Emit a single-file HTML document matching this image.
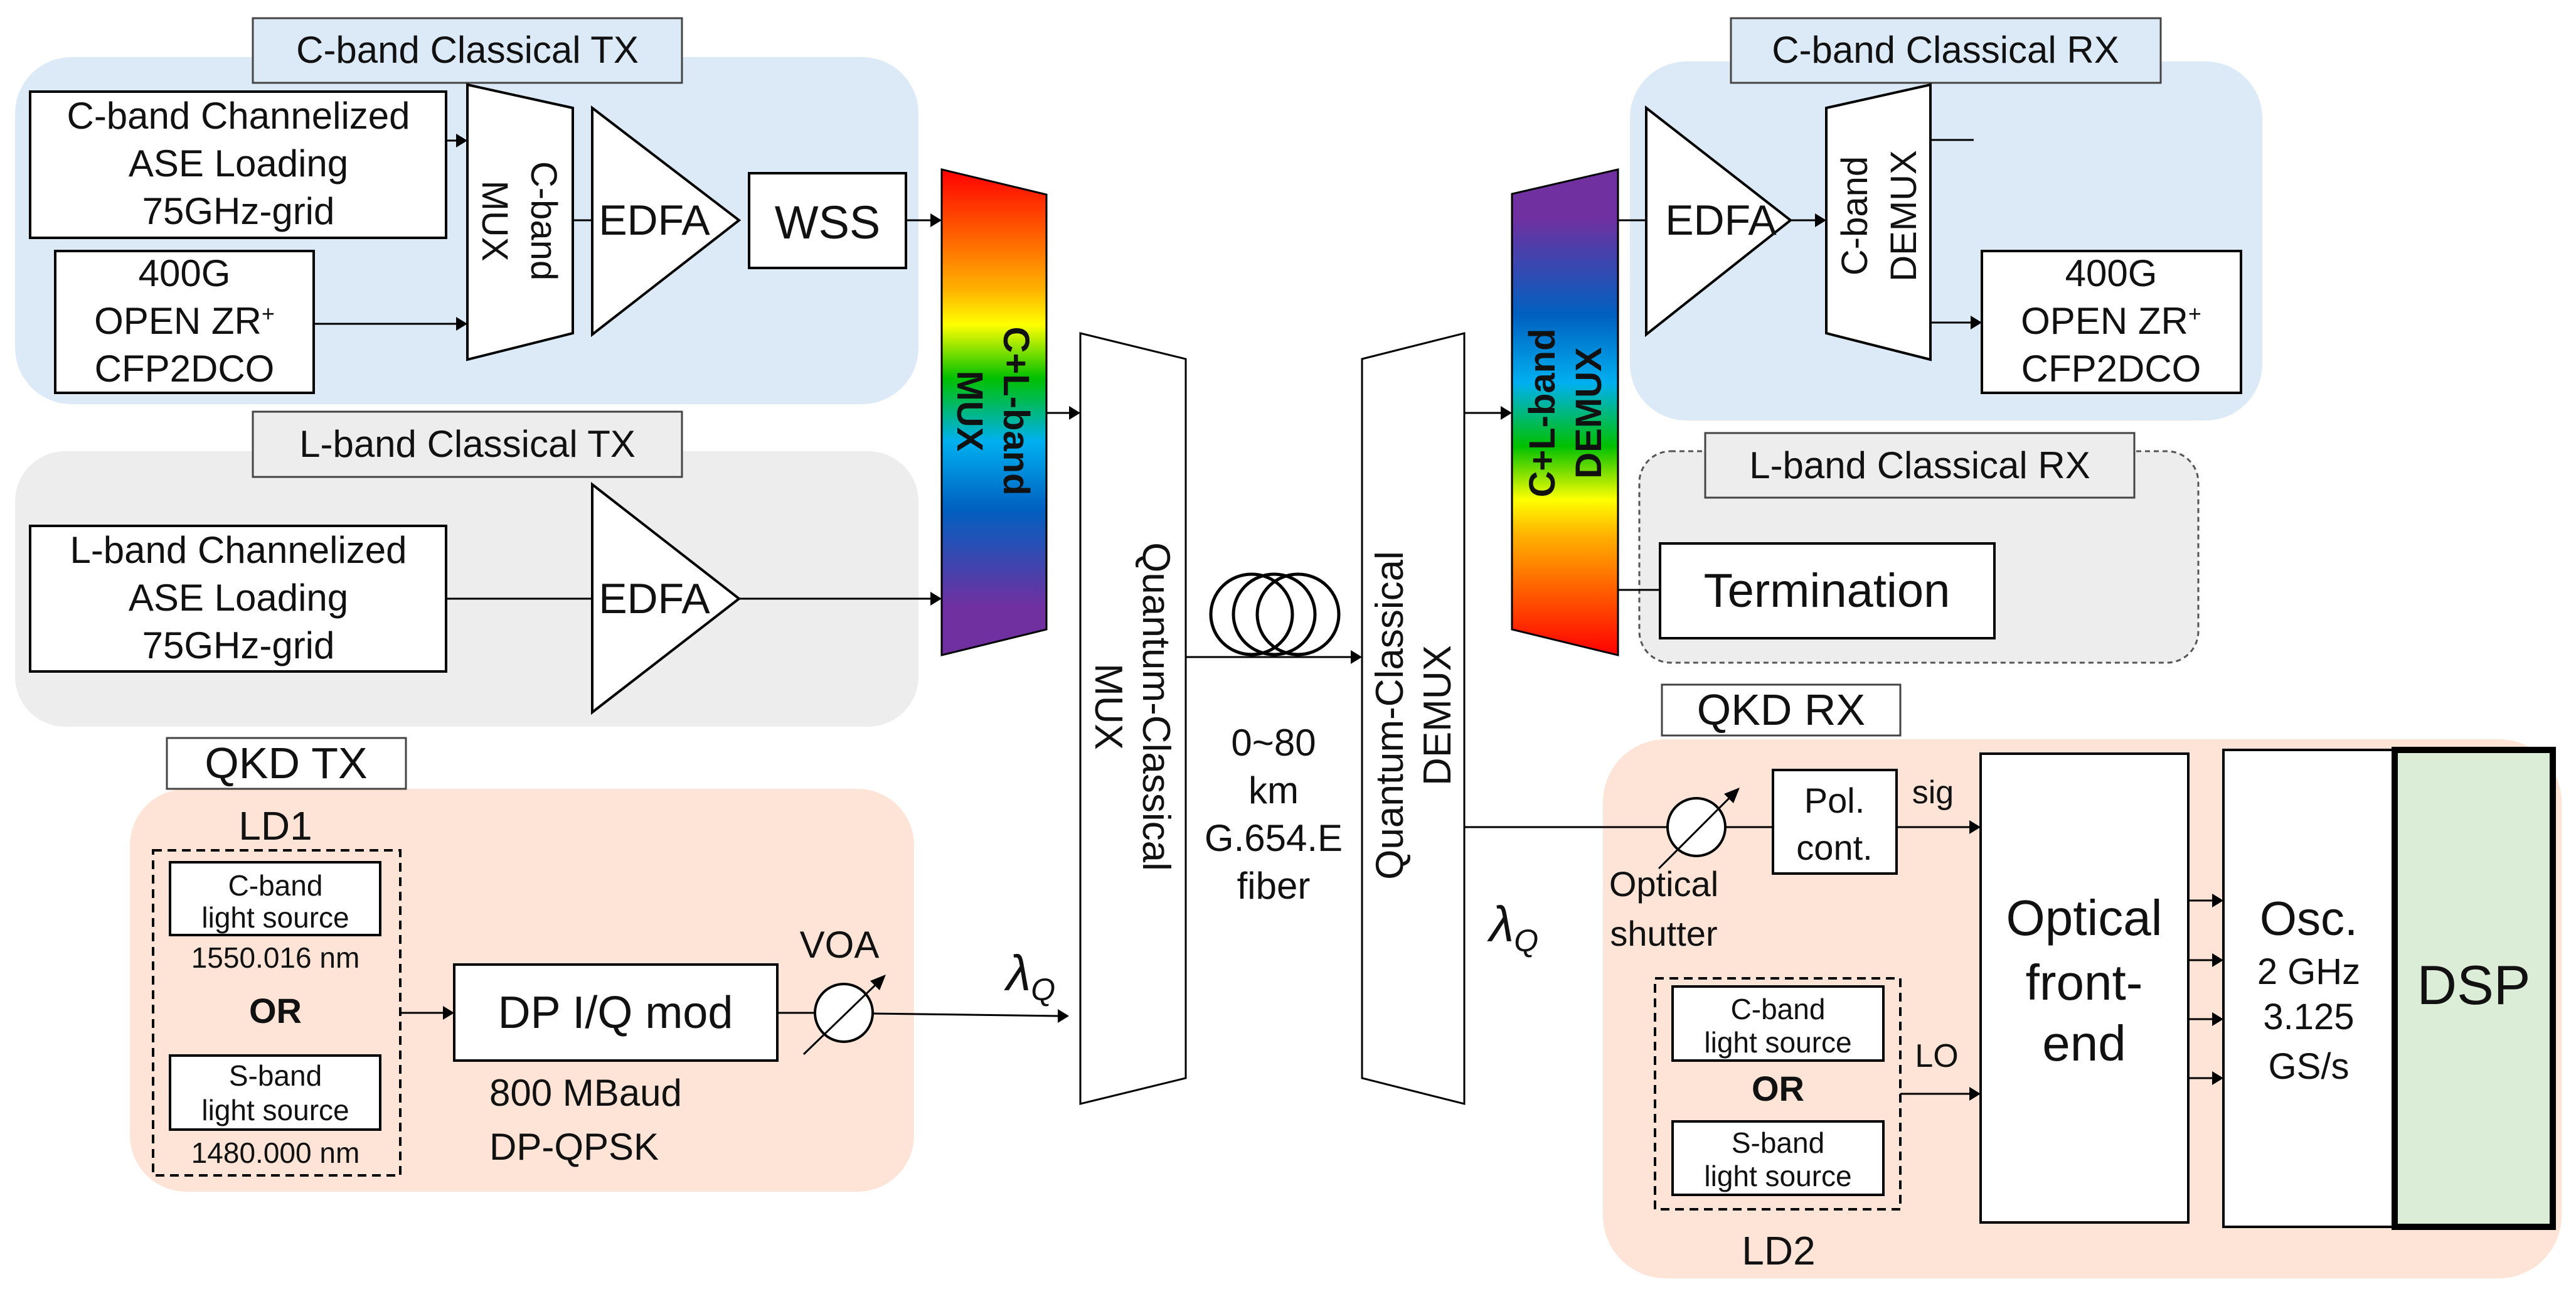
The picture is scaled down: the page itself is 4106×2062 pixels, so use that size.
<!DOCTYPE html>
<html><head><meta charset="utf-8"><style>
html,body{margin:0;padding:0;background:#fff}
svg{display:block}
text{font-family:"Liberation Sans Narrow","Liberation Sans",sans-serif;fill:#111}
.a{font-family:"Liberation Sans",sans-serif}
</style></head><body>
<svg width="4106" height="2062" viewBox="0 0 4106 2062" xmlns="http://www.w3.org/2000/svg">
<defs>
<linearGradient id="gm" gradientUnits="userSpaceOnUse" x1="0" y1="270" x2="0" y2="1044">
<stop offset="0" stop-color="#ff0000"/><stop offset="0.15" stop-color="#ff6a00"/><stop offset="0.25" stop-color="#ffb400"/><stop offset="0.32" stop-color="#ffff00"/><stop offset="0.43" stop-color="#00c000"/><stop offset="0.56" stop-color="#00b0f0"/><stop offset="0.7" stop-color="#0060c0"/><stop offset="0.9" stop-color="#7030a0"/><stop offset="1" stop-color="#7030a0"/>
</linearGradient>
<linearGradient id="gd" gradientUnits="userSpaceOnUse" x1="0" y1="1044" x2="0" y2="270">
<stop offset="0" stop-color="#ff0000"/><stop offset="0.15" stop-color="#ff6a00"/><stop offset="0.25" stop-color="#ffb400"/><stop offset="0.32" stop-color="#ffff00"/><stop offset="0.43" stop-color="#00c000"/><stop offset="0.56" stop-color="#00b0f0"/><stop offset="0.7" stop-color="#0060c0"/><stop offset="0.9" stop-color="#7030a0"/><stop offset="1" stop-color="#7030a0"/>
</linearGradient>
</defs>

<rect x="24" y="91" width="1440" height="553" rx="90" fill="#dbeaf6"/>
<rect x="24" y="719" width="1440" height="439" rx="80" fill="#ededed"/>
<rect x="207" y="1257" width="1250" height="642" rx="90" fill="#fde4d6"/>
<rect x="2598" y="98" width="1008" height="572" rx="90" fill="#dbeaf6"/>
<rect x="2613" y="719" width="891" height="337" rx="50" fill="#ededed" stroke="#555" stroke-width="3" stroke-dasharray="8,6"/>
<rect x="2555" y="1178" width="1528" height="859" rx="100" fill="#fde4d6"/>

<rect x="403" y="29" width="684" height="103" fill="#dbeaf6" stroke="#444" stroke-width="3"/>
<text x="745" y="100" font-size="60" text-anchor="middle">C-band Classical TX</text>
<rect x="403" y="656" width="684" height="104" fill="#ededed" stroke="#444" stroke-width="3"/>
<text x="745" y="728" font-size="60" text-anchor="middle">L-band Classical TX</text>
<rect x="2759" y="29" width="685" height="103" fill="#dbeaf6" stroke="#444" stroke-width="3"/>
<text x="3101" y="100" font-size="60" text-anchor="middle">C-band Classical RX</text>
<rect x="2718" y="690" width="684" height="103" fill="#ededed" stroke="#444" stroke-width="3"/>
<text x="3060" y="762" font-size="60" text-anchor="middle">L-band Classical RX</text>
<rect x="266" y="1176" width="381" height="81" fill="#fff" stroke="#444" stroke-width="3"/>
<text x="456" y="1240" font-size="70" text-anchor="middle">QKD TX</text>
<rect x="2649" y="1091" width="380" height="81" fill="#fff" stroke="#444" stroke-width="3"/>
<text x="2839" y="1155" font-size="70" text-anchor="middle">QKD RX</text>

<g stroke="#000" stroke-width="4" fill="#fff">
<rect x="48" y="146" width="663" height="233"/>
<rect x="88" y="400" width="412" height="226"/>
<polygon points="745,135 913,172 913,531 745,573"/>
<polygon points="944,172 1178,351 944,533"/>
<rect x="1194" y="276" width="250" height="151"/>
<rect x="48" y="838" width="663" height="232"/>
<polygon points="944,772 1178,954 944,1135"/>
<polygon points="1501,270 1668,310 1668,1003 1501,1044" fill="url(#gm)" stroke-width="3"/>
<polygon points="1722,531 1890,572 1890,1718 1722,1759" stroke-width="3"/>
<polygon points="2171,572 2334,531 2334,1759 2171,1718" stroke-width="3"/>
<polygon points="2410,309 2579,270 2579,1044 2410,1003" fill="url(#gd)" stroke-width="3"/>
<polygon points="2624,172 2854,351 2624,533"/>
<polygon points="2911,172 3077,135 3077,573 2911,531"/>
<rect x="3159" y="400" width="413" height="226"/>
<rect x="2646" y="866" width="533" height="151"/>
<rect x="244" y="1355" width="394" height="518" fill="none" stroke-dasharray="14,9"/>
<rect x="271" y="1374" width="335" height="116"/>
<rect x="271" y="1682" width="335" height="118"/>
<rect x="724" y="1537" width="515" height="153"/>
<rect x="2826" y="1227" width="197" height="165"/>
<rect x="3157" y="1201" width="331" height="747"/>
<rect x="3544" y="1195" width="273" height="760"/>
<rect x="3817" y="1195" width="252" height="760" fill="#dbedd6" stroke-width="10"/>
<rect x="2638" y="1559" width="391" height="368" fill="none" stroke-dasharray="14,9"/>
<rect x="2666" y="1572" width="336" height="118"/>
<rect x="2666" y="1787" width="336" height="117"/>
</g>

<g stroke="#000" stroke-width="3" fill="none">
<line x1="711" y1="224" x2="730" y2="224"/>
<line x1="500" y1="516" x2="730" y2="516"/>
<line x1="913" y1="351" x2="944" y2="351"/>
<line x1="1444" y1="351" x2="1485" y2="351"/>
<line x1="711" y1="954" x2="944" y2="954"/>
<line x1="1178" y1="954" x2="1485" y2="954"/>
<line x1="1668" y1="658" x2="1706" y2="658"/>
<line x1="1890" y1="1047" x2="2155" y2="1047"/>
<line x1="2334" y1="658" x2="2394" y2="658"/>
<line x1="2579" y1="351" x2="2624" y2="351"/>
<line x1="2854" y1="351" x2="2895" y2="351"/>
<line x1="3077" y1="223" x2="3146" y2="223"/>
<line x1="3077" y1="514" x2="3143" y2="514"/>
<line x1="2579" y1="940" x2="2646" y2="940"/>
<line x1="638" y1="1614" x2="708" y2="1614"/>
<line x1="1239" y1="1614" x2="1299" y2="1614"/>
<line x1="1391" y1="1615" x2="1687" y2="1619"/>
<line x1="2334" y1="1318" x2="2658" y2="1318"/>
<line x1="2750" y1="1318" x2="2826" y2="1318"/>
<line x1="3023" y1="1318" x2="3141" y2="1318"/>
<line x1="3029" y1="1743" x2="3141" y2="1743"/>
<line x1="3488" y1="1435" x2="3528" y2="1435"/>
<line x1="3488" y1="1530" x2="3528" y2="1530"/>
<line x1="3488" y1="1624" x2="3528" y2="1624"/>
<line x1="3488" y1="1718" x2="3528" y2="1718"/>
<ellipse cx="1995" cy="979" rx="65" ry="64" stroke-width="5"/>
<ellipse cx="2031" cy="979" rx="65" ry="64" stroke-width="5"/>
<ellipse cx="2069" cy="979" rx="65" ry="64" stroke-width="5"/>
</g>
<g fill="#000">
<polygon points="745,224 727,213 727,235"/>
<polygon points="745,516 727,505 727,527"/>
<polygon points="1501,351 1483,340 1483,362"/>
<polygon points="1501,954 1483,943 1483,965"/>
<polygon points="1722,658 1704,647 1704,669"/>
<polygon points="2171,1047 2153,1036 2153,1058"/>
<polygon points="2410,658 2392,647 2392,669"/>
<polygon points="2911,351 2893,340 2893,362"/>
<polygon points="3159,514 3141,503 3141,525"/>
<polygon points="724,1614 706,1603 706,1625"/>
<polygon points="1704,1619 1686,1608 1686,1630"/>
<polygon points="3157,1318 3139,1307 3139,1329"/>
<polygon points="3157,1743 3139,1732 3139,1754"/>
<polygon points="3544,1435 3526,1424 3526,1446"/>
<polygon points="3544,1530 3526,1519 3526,1541"/>
<polygon points="3544,1624 3526,1613 3526,1635"/>
<polygon points="3544,1718 3526,1707 3526,1729"/>
</g>
<g stroke="#000" stroke-width="4" fill="#fff">
<circle cx="1345" cy="1614" r="46"/>
<circle cx="2704" cy="1318" r="46"/>
</g>
<g stroke="#000" stroke-width="3">
<line x1="1281" y1="1680" x2="1400" y2="1565"/>
<line x1="2644" y1="1384" x2="2763" y2="1265"/>
</g>
<polygon points="1412,1553 1387,1563 1402,1578" fill="#000"/>
<polygon points="2773,1255 2748,1265 2763,1280" fill="#000"/>

<g font-size="60" text-anchor="middle">
<text x="380" y="205">C-band Channelized</text>
<text x="380" y="281">ASE Loading</text>
<text x="380" y="357">75GHz-grid</text>
<text x="294" y="456">400G</text>
<text x="294" y="532">OPEN ZR<tspan font-size="36" dy="-20">+</tspan></text>
<text x="294" y="608">CFP2DCO</text>
<text x="380" y="897">L-band Channelized</text>
<text x="380" y="973">ASE Loading</text>
<text x="380" y="1049">75GHz-grid</text>
<text x="1043" y="374" font-size="68">EDFA</text>
<text x="1043" y="977" font-size="68">EDFA</text>
<text x="1319" y="380" font-size="74">WSS</text>
<text x="2743" y="374" font-size="68">EDFA</text>
<text x="3365" y="456">400G</text>
<text x="3365" y="532">OPEN ZR<tspan font-size="36" dy="-20">+</tspan></text>
<text x="3365" y="608">CFP2DCO</text>
<text x="2912" y="967" font-size="76">Termination</text>
<text x="2030" y="1204">0~80</text>
<text x="2030" y="1280">km</text>
<text x="2030" y="1356">G.654.E</text>
<text x="2030" y="1432">fiber</text>
<text x="439" y="1338" font-size="64">LD1</text>
<text x="439" y="1427" font-size="46">C-band</text>
<text x="439" y="1478" font-size="46">light source</text>
<text x="439" y="1542" font-size="46">1550.016 nm</text>
<text x="439" y="1630" font-size="56" font-weight="bold">OR</text>
<text x="439" y="1730" font-size="46">S-band</text>
<text x="439" y="1785" font-size="46">light source</text>
<text x="439" y="1853" font-size="46">1480.000 nm</text>
<text x="981" y="1638" font-size="72">DP I/Q mod</text>
<text x="1338" y="1526">VOA</text>
<text x="780" y="1762" text-anchor="start">800 MBaud</text>
<text x="780" y="1848" text-anchor="start">DP-QPSK</text>
<text x="1643" y="1578" font-family="Liberation Serif" font-style="italic" font-size="80">λ<tspan font-size="50" dy="16">Q</tspan></text>
<text x="2413" y="1500" font-family="Liberation Serif" font-style="italic" font-size="80">λ<tspan font-size="50" dy="16">Q</tspan></text>
<text x="2924" y="1295" font-size="56">Pol.</text>
<text x="2924" y="1370" font-size="56">cont.</text>
<text x="3081" y="1280" font-size="52">sig</text>
<text x="2652" y="1428" font-size="56">Optical</text>
<text x="2652" y="1507" font-size="56">shutter</text>
<text x="3322" y="1490" font-size="80">Optical</text>
<text x="3322" y="1593" font-size="80">front-</text>
<text x="3322" y="1690" font-size="80">end</text>
<text x="3680" y="1490" font-size="76">Osc.</text>
<text x="3680" y="1568" font-size="58">2 GHz</text>
<text x="3680" y="1640" font-size="58">3.125</text>
<text x="3680" y="1719" font-size="58">GS/s</text>
<text x="3943" y="1600" font-size="88">DSP</text>
<text x="2834" y="1624" font-size="46">C-band</text>
<text x="2834" y="1677" font-size="46">light source</text>
<text x="2834" y="1754" font-size="56" font-weight="bold">OR</text>
<text x="2834" y="1837" font-size="46">S-band</text>
<text x="2834" y="1890" font-size="46">light source</text>
<text x="3087" y="1700" font-size="52">LO</text>
<text x="2835" y="2015" font-size="64">LD2</text>
</g>
<g class="a" text-anchor="middle" font-size="58">
<text class="a" transform="translate(829,352) rotate(90)"><tspan x="0" y="-18">C-band</tspan><tspan x="0" y="60">MUX</tspan></text>
<text class="a" transform="translate(1584,655) rotate(90)" font-weight="bold"><tspan x="0" y="-16">C+L-band</tspan><tspan x="0" y="58">MUX</tspan></text>
<text class="a" transform="translate(1806,1126) rotate(90)" font-size="62"><tspan x="0" y="-16">Quantum-Classical</tspan><tspan x="0" y="60">MUX</tspan></text>
<text class="a" transform="translate(2252,1140) rotate(-90)" font-size="62"><tspan x="0" y="-16">Quantum-Classical</tspan><tspan x="0" y="60">DEMUX</tspan></text>
<text class="a" transform="translate(2494,658) rotate(-90)" font-weight="bold"><tspan x="0" y="-16">C+L-band</tspan><tspan x="0" y="58">DEMUX</tspan></text>
<text class="a" transform="translate(2994,344) rotate(-90)"><tspan x="0" y="-18">C-band</tspan><tspan x="0" y="60">DEMUX</tspan></text>
</g>
</svg>
</body></html>
